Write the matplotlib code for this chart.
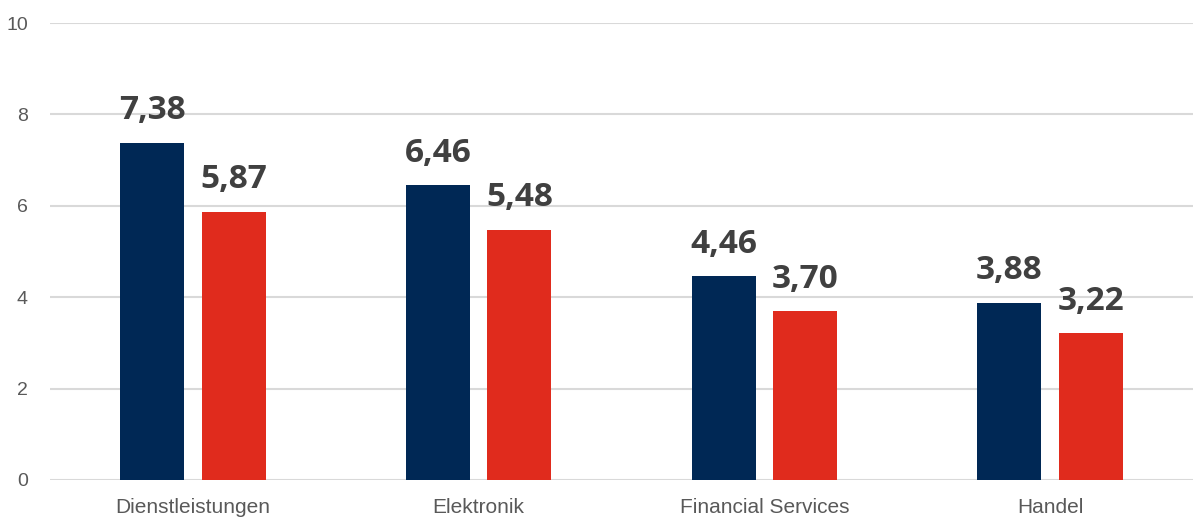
import numpy as np
from matplotlib import pyplot as plt

categories = ["Dienstleistungen", "Elektronik", "Financial Services", "Handel"]
series_a = [7.38, 6.46, 4.46, 3.88]
series_b = [5.87, 5.48, 3.70, 3.22]
y_ticks = [0, 2, 4, 6, 8, 10]

NAVY = "#002855"
RED = "#e02b1d"


def fmt(v):
    return f"{v:.2f}".replace(".", ",")


def draw_graph():
    plt.rcParams["font.family"] = ["Liberation Sans", "DejaVu Sans"]
    fig = plt.figure(figsize=(11.93, 5.19), dpi=100)
    ax = fig.add_axes([50 / 1193, 39 / 519, 1 - 50 / 1193, 457 / 519])

    x = np.arange(len(categories))
    w = 0.224
    off = 0.143
    ax.bar(x - off, series_a, w, color=NAVY, zorder=3)
    ax.bar(x + off, series_b, w, color=RED, zorder=3)

    for xi, a, b in zip(x, series_a, series_b):
        for xx, v in ((xi - off, a), (xi + off, b)):
            ax.annotate(fmt(v), (xx, v), xytext=(0, 11), textcoords="offset points",
                        ha="center", va="bottom", fontsize=24, fontweight="bold",
                        color="#404040", family=["Open Sans", "DejaVu Sans"], zorder=4)

    ax.set_xlim(-0.5, len(categories) - 0.5)
    ax.set_ylim(0, 10)
    ax.set_yticks(y_ticks)
    ax.set_xticks(x)
    ax.set_xticklabels(categories)
    ax.tick_params(axis="both", length=0, labelcolor="#595959")
    ax.tick_params(axis="y", pad=16, labelsize=14)
    ax.tick_params(axis="x", pad=13, labelsize=15)
    ax.grid(axis="y", color="#d9d9d9", linewidth=1.5, zorder=0)
    for s in ax.spines.values():
        s.set_visible(False)

    fig.savefig("out.png", dpi=100)


if __name__ == "__main__":
    draw_graph()
